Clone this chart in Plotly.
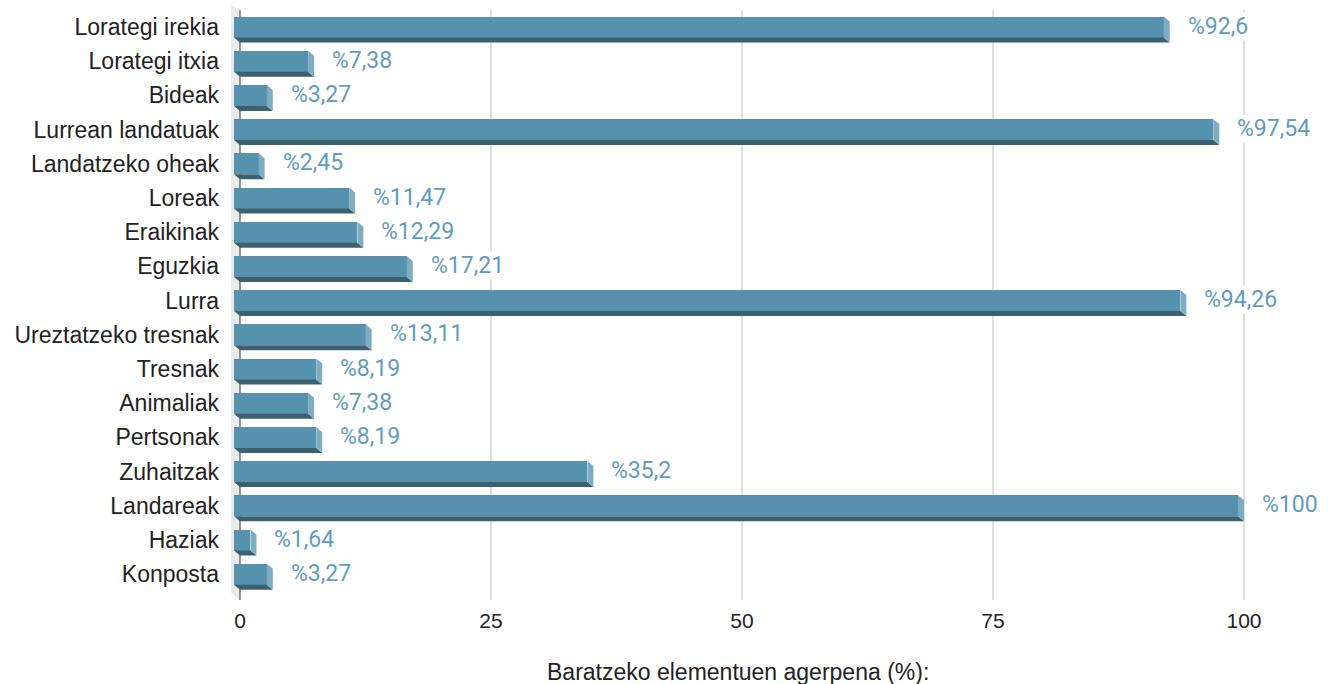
import plotly.graph_objects as go

# Data
categories = [
    "Lorategi irekia", "Lorategi itxia", "Bideak", "Lurrean landatuak",
    "Landatzeko oheak", "Loreak", "Eraikinak", "Eguzkia", "Lurra",
    "Ureztatzeko tresnak", "Tresnak", "Animaliak", "Pertsonak",
    "Zuhaitzak", "Landareak", "Haziak", "Konposta",
]
values = [92.6, 7.38, 3.27, 97.54, 2.45, 11.47, 12.29, 17.21, 94.26,
          13.11, 8.19, 7.38, 8.19, 35.2, 100, 1.64, 3.27]
x_ticks = [0, 25, 50, 75, 100]
axis_title = "Baratzeko elementuen agerpena (%):"

# Page / plot geometry (pixels)
W, H = 1335, 684
PL, PR = 224, 1300          # plot area left/right
PT, PB = 5, 605             # plot area top/bottom
X0_PX, X100_PX = 240, 1244  # back-plane position of 0 and 100
ROW0_PX, ROW_STEP = 27, 34.2

kx = (X100_PX - X0_PX) / 100.0
xr = [(PL - X0_PX) / kx, (PR - X0_PX) / kx]
yr = [(PB - ROW0_PX) / ROW_STEP, (PT - ROW0_PX) / ROW_STEP]

# 3D depth of the bars: front face is shifted left/up from the back plane
DEPTH_X = 6 / kx
DEPTH_Y = 5 / ROW_STEP
HALF_H = 10.5 / ROW_STEP
WALL_X = 9 / kx

FRONT = "#5691ae"
BOTTOM = "#3d6070"
SIDE = "#7eadc3"
LABEL = "#5f9cbf"
TEXT = "#222222"
SANS = "Liberation Sans, Arial, sans-serif"

ys = list(range(len(categories)))

fig = go.Figure()
fig.add_trace(go.Bar(
    y=ys, x=values, base=[-DEPTH_X] * len(values), orientation="h",
    width=HALF_H * 2, marker=dict(color=FRONT, line=dict(width=0)),
    hoverinfo="skip", showlegend=False,
))

shapes = []
# back-plane wall behind the category axis
back_top = (10 - ROW0_PX) / ROW_STEP
back_bot = (600 - ROW0_PX) / ROW_STEP
shapes.append(dict(
    type="path", xref="x", yref="y", layer="below",
    path=f"M 0 {back_top} L 0 {back_bot} L {-WALL_X} {back_bot - DEPTH_Y * 1.5} "
         f"L {-WALL_X} {back_top - DEPTH_Y} Z",
    fillcolor="#ebebeb", line=dict(width=0),
))
# grid lines on the back plane
for t in x_ticks[1:]:
    shapes.append(dict(type="line", xref="x", yref="y", layer="below",
                       x0=t, x1=t, y0=back_top, y1=back_bot,
                       line=dict(color="#d4d4d4", width=1.5)))
# value axis line
shapes.append(dict(type="line", xref="x", yref="y", layer="below",
                   x0=0, x1=0, y0=back_top, y1=back_bot,
                   line=dict(color="#333333", width=1)))

# bottom and side faces of each bar
for y, v in zip(ys, values):
    yb = y + HALF_H
    yt = y - HALF_H
    shapes.append(dict(
        type="path", xref="x", yref="y", layer="above",
        path=f"M {-DEPTH_X} {yb} L {v - DEPTH_X} {yb} L {v} {yb + DEPTH_Y} "
             f"L 0 {yb + DEPTH_Y} Z",
        fillcolor=BOTTOM, line=dict(width=0),
    ))
    shapes.append(dict(
        type="path", xref="x", yref="y", layer="above",
        path=f"M {v - DEPTH_X} {yt} L {v} {yt + DEPTH_Y} L {v} {yb + DEPTH_Y} "
             f"L {v - DEPTH_X} {yb} Z",
        fillcolor=SIDE, line=dict(width=0),
    ))

annotations = []
for y, v in zip(ys, values):
    annotations.append(dict(
        x=v, y=y, xref="x", yref="y", xanchor="left", yanchor="middle",
        xshift=17, yshift=1, showarrow=False,
        text="%" + f"{v:g}".replace(".", ","),
        font=dict(family="Roboto", size=23, color=LABEL),
        bgcolor="white", borderpad=0,
    ))
annotations.append(dict(
    x=(738 - PL) / (PR - PL), y=(PB - 672) / (PB - PT),
    xref="paper", yref="paper", xanchor="center", yanchor="middle",
    showarrow=False, text=axis_title,
    font=dict(family=SANS, size=23, color=TEXT),
))

fig.update_layout(
    width=W, height=H,
    margin=dict(l=PL, r=W - PR, t=PT, b=H - PB, pad=0),
    paper_bgcolor="white", plot_bgcolor="white",
    bargap=0,
    shapes=shapes, annotations=annotations,
    xaxis=dict(range=xr, tickvals=x_ticks, ticktext=[str(t) for t in x_ticks],
               showgrid=False, zeroline=False, showline=False, ticks="",
               tickfont=dict(family=SANS, size=21, color=TEXT),
               ticklabelstandoff=1, fixedrange=True),
    yaxis=dict(range=yr, tickvals=ys, ticktext=categories,
               showgrid=False, zeroline=False, showline=False, ticks="",
               tickfont=dict(family=SANS, size=23, color=TEXT),
               ticklabelstandoff=4, fixedrange=True),
)

fig.write_html("out.html")
